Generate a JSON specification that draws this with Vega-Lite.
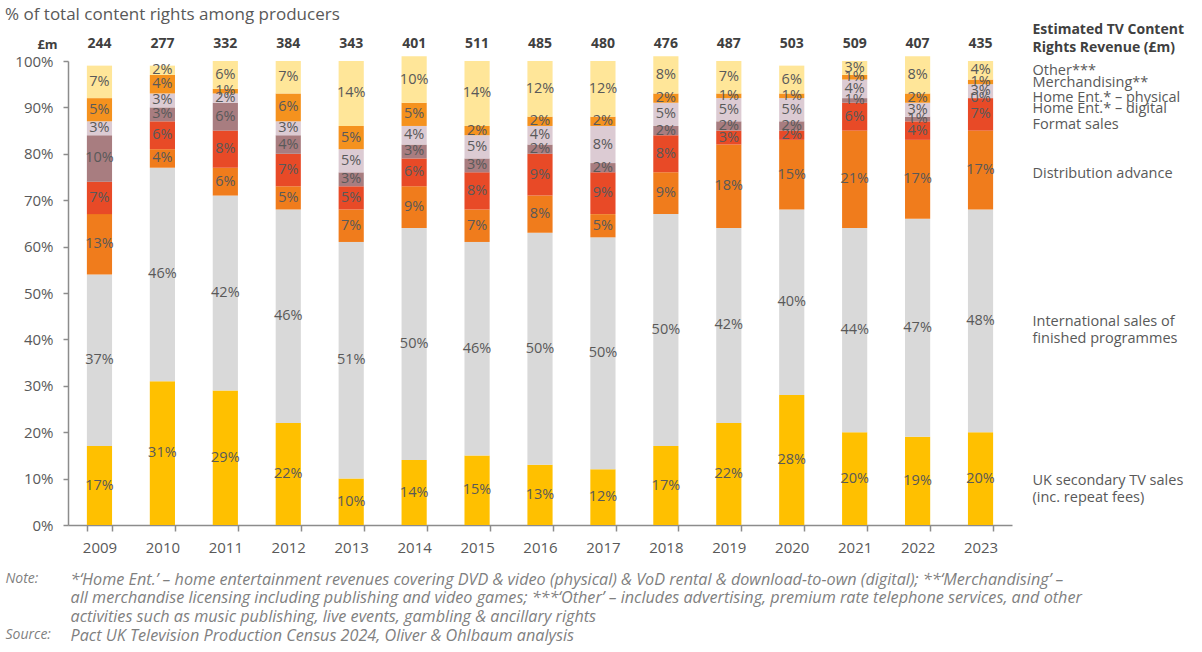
{
  "$schema": "https://vega.github.io/schema/vega-lite/v6.json",
  "width": 944,
  "height": 464,
  "autosize": {"type": "none"},
  "padding": {"left": 68, "top": 61, "right": 190, "bottom": 127},
  "background": "white",
  "config": {"view": {"stroke": null}, "font": "Open Sans", "axis": {"grid": false}},
  "title": {"text": "% of total content rights among producers", "anchor": "start", "frame": "group", "dx": -63, "dy": 15, "fontSize": 17, "fontWeight": "normal", "color": "#595959", "offset": 13},
  "datasets": {
    "rights": [
      {"year": "2009", "total": 244, "UK": 17, "Intl": 37, "Dist": 13, "Format": 7, "HEdig": 10, "HEphys": 3, "Merch": 5, "Other": 7},
      {"year": "2010", "total": 277, "UK": 31, "Intl": 46, "Dist": 4, "Format": 6, "HEdig": 3, "HEphys": 3, "Merch": 4, "Other": 2},
      {"year": "2011", "total": 332, "UK": 29, "Intl": 42, "Dist": 6, "Format": 8, "HEdig": 6, "HEphys": 2, "Merch": 1, "Other": 6},
      {"year": "2012", "total": 384, "UK": 22, "Intl": 46, "Dist": 5, "Format": 7, "HEdig": 4, "HEphys": 3, "Merch": 6, "Other": 7},
      {"year": "2013", "total": 343, "UK": 10, "Intl": 51, "Dist": 7, "Format": 5, "HEdig": 3, "HEphys": 5, "Merch": 5, "Other": 14},
      {"year": "2014", "total": 401, "UK": 14, "Intl": 50, "Dist": 9, "Format": 6, "HEdig": 3, "HEphys": 4, "Merch": 5, "Other": 10},
      {"year": "2015", "total": 511, "UK": 15, "Intl": 46, "Dist": 7, "Format": 8, "HEdig": 3, "HEphys": 5, "Merch": 2, "Other": 14},
      {"year": "2016", "total": 485, "UK": 13, "Intl": 50, "Dist": 8, "Format": 9, "HEdig": 2, "HEphys": 4, "Merch": 2, "Other": 12},
      {"year": "2017", "total": 480, "UK": 12, "Intl": 50, "Dist": 5, "Format": 9, "HEdig": 2, "HEphys": 8, "Merch": 2, "Other": 12},
      {"year": "2018", "total": 476, "UK": 17, "Intl": 50, "Dist": 9, "Format": 8, "HEdig": 2, "HEphys": 5, "Merch": 2, "Other": 8},
      {"year": "2019", "total": 487, "UK": 22, "Intl": 42, "Dist": 18, "Format": 3, "HEdig": 2, "HEphys": 5, "Merch": 1, "Other": 7},
      {"year": "2020", "total": 503, "UK": 28, "Intl": 40, "Dist": 15, "Format": 2, "HEdig": 2, "HEphys": 5, "Merch": 1, "Other": 6},
      {"year": "2021", "total": 509, "UK": 20, "Intl": 44, "Dist": 21, "Format": 6, "HEdig": 1, "HEphys": 4, "Merch": 1, "Other": 3},
      {"year": "2022", "total": 407, "UK": 19, "Intl": 47, "Dist": 17, "Format": 4, "HEdig": 1, "HEphys": 3, "Merch": 2, "Other": 8},
      {"year": "2023", "total": 435, "UK": 20, "Intl": 48, "Dist": 17, "Format": 7, "HEdig": 0, "HEphys": 3, "Merch": 1, "Other": 4}
    ]
  },
  "data": {"name": "rights"},
  "transform": [
    {"fold": ["UK", "Intl", "Dist", "Format", "HEdig", "HEphys", "Merch", "Other"], "as": ["cat", "v"]},
    {"calculate": "indexof(['UK','Intl','Dist','Format','HEdig','HEphys','Merch','Other'], datum.cat)", "as": "ord"},
    {"stack": "v", "groupby": ["year"], "sort": [{"field": "ord", "order": "ascending"}], "as": ["y0", "y1"]},
    {"calculate": "(datum.y0 + datum.y1) / 2", "as": "mid"},
    {"calculate": "datum.v + '%'", "as": "label"}
  ],
  "layer": [
    {
      "mark": {"type": "bar"},
      "encoding": {
        "x": {
          "field": "year", "type": "ordinal",
          "scale": {"paddingInner": 0.6, "paddingOuter": 0.3},
          "axis": {
            "orient": "bottom", "labelAngle": 0, "labelFontSize": 15, "labelColor": "#595959", "labelPadding": 9,
            "tickBand": "extent", "tickSize": 6, "tickColor": "#8c8c8c", "domainColor": "#8c8c8c", "domainWidth": 1.5, "tickWidth": 1.5,
            "title": ["*‘Home Ent.’ – home entertainment revenues covering DVD & video (physical) & VoD rental & download-to-own (digital); **‘Merchandising’ –", "all merchandise licensing including publishing and video games; ***‘Other’ – includes advertising, premium rate telephone services, and other", "activities such as music publishing, live events, gambling & ancillary rights", "Pact UK Television Production Census 2024, Oliver & Ohlbaum analysis"],
            "titleAlign": "left", "titleAnchor": "start", "titleX": 2, "titleY": 46, "titleBaseline": "top", "titleFontStyle": "italic", "titleFontWeight": "normal", "titleFontSize": 16.2, "titleColor": "#7f7f7f", "titleLineHeight": 18.7
          }
        },
        "y": {
          "field": "y0", "type": "quantitative",
          "scale": {"domain": [0, 100], "nice": false},
          "axis": {
            "orient": "left", "values": [0, 10, 20, 30, 40, 50, 60, 70, 80, 90, 100], "labelExpr": "datum.value + '%'",
            "labelFontSize": 15, "labelColor": "#595959", "labelPadding": 10, "tickSize": 5, "tickColor": "#8c8c8c", "domainColor": "#8c8c8c", "domainWidth": 1.5, "tickWidth": 1.5,
            "title": "£m", "titleAngle": 0, "titleX": -21, "titleY": -17, "titleAlign": "center", "titleBaseline": "middle", "titleFontSize": 13, "titleFontWeight": "bold", "titleColor": "#404040"
          }
        },
        "y2": {"field": "y1"},
        "color": {
          "field": "cat", "type": "nominal", "legend": null,
          "scale": {"domain": ["UK", "Intl", "Dist", "Format", "HEdig", "HEphys", "Merch", "Other"], "range": ["#FFC000", "#D9D9D9", "#F07C1C", "#E84A27", "#A87D80", "#DCCBD3", "#F5921E", "#FFE699"]}
        }
      }
    },
    {
      "mark": {"type": "text", "fontSize": 14.5, "color": "#595959", "baseline": "middle", "align": "center"},
      "encoding": {
        "x": {
          "field": "year", "type": "ordinal",
          "axis": {
            "orient": "top", "labels": false, "ticks": false, "domain": false,
            "title": ["Note:", "Source:"], "titleAlign": "left", "titleAnchor": "start", "titleX": -63, "titleY": 510, "titleBaseline": "top", "titleFontStyle": "italic", "titleFontWeight": "normal", "titleFontSize": 14, "titleColor": "#7f7f7f", "titleLineHeight": 56
          }
        },
        "y": {
          "field": "mid", "type": "quantitative",
          "scale": {"domain": [0, 100], "nice": false},
          "axis": {
            "orient": "right", "values": [98.06, 95.47, 92.24, 89.87, 86.42, 75.65, 43.86, 9.59],
            "labelExpr": "datum.value > 97 ? 'Other***' : datum.value > 94 ? 'Merchandising**' : datum.value > 91 ? 'Home Ent.* – physical' : datum.value > 88 ? 'Home Ent.* – digital' : datum.value > 85 ? 'Format sales' : datum.value > 70 ? 'Distribution advance' : datum.value > 30 ? ['International sales of', 'finished programmes'] : ['UK secondary TV sales', '(inc. repeat fees)']",
            "labelOverlap": false, "labelBound": false, "labelFlush": false,
            "labelFontSize": 14.5, "labelColor": "#595959", "labelPadding": 20, "ticks": false, "tickSize": 0, "domain": false, "labelAlign": "left", "labelBaseline": "middle", "labelLineHeight": 17,
            "title": ["Estimated TV Content", "Rights Revenue (£m)"], "titleAngle": 0, "titleAlign": "left", "titleAnchor": "start", "titleX": 20, "titleY": -39, "titleBaseline": "top", "titleFontSize": 14, "titleFontWeight": "bold", "titleColor": "#404040", "titleLineHeight": 18
          }
        },
        "text": {"field": "label"}
      }
    },
    {
      "transform": [{"filter": "datum.cat == 'UK'"}],
      "mark": {"type": "text", "fontSize": 14, "fontWeight": "bold", "color": "#404040", "baseline": "middle", "align": "center"},
      "encoding": {
        "x": {"field": "year", "type": "ordinal", "axis": null},
        "y": {"datum": 103.66, "type": "quantitative", "scale": {"domain": [0, 100], "nice": false}, "axis": null},
        "text": {"field": "total"}
      }
    }
  ],
  "resolve": {"axis": {"x": "independent", "y": "independent"}}
}
